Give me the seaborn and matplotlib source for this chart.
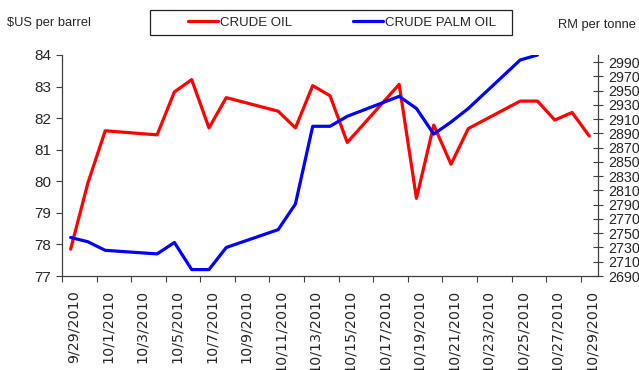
import pandas as pd
import matplotlib
matplotlib.use("Agg")
import matplotlib.pyplot as plt
import seaborn as sns
from matplotlib.patches import Rectangle
from matplotlib.lines import Line2D

# Daily closing prices (business days)
dates = ["2010-09-29", "2010-09-30", "2010-10-01", "2010-10-04", "2010-10-05",
         "2010-10-06", "2010-10-07", "2010-10-08", "2010-10-11", "2010-10-12",
         "2010-10-13", "2010-10-14", "2010-10-15", "2010-10-18", "2010-10-19",
         "2010-10-20", "2010-10-21", "2010-10-22", "2010-10-25", "2010-10-26",
         "2010-10-27", "2010-10-28", "2010-10-29"]
crude_oil = [77.85, 79.95, 81.60, 81.47, 82.83, 83.22, 81.69, 82.65, 82.22, 81.69,
             83.03, 82.71, 81.23, 83.07, 79.46, 81.78, 80.54, 81.67, 82.54, 82.54,
             81.94, 82.18, 81.43]
palm_dates = dates[:20]
crude_palm_oil = [2744, 2738, 2726, 2721, 2737, 2699, 2699, 2730, 2755, 2791,
                  2900, 2900, 2914, 2942, 2925, 2889, 2906, 2925, 2993, 3000]

tick_labels = ["9/29/2010", "10/1/2010", "10/3/2010", "10/5/2010", "10/7/2010",
               "10/9/2010", "10/11/2010", "10/13/2010", "10/15/2010", "10/17/2010",
               "10/19/2010", "10/21/2010", "10/23/2010", "10/25/2010", "10/27/2010",
               "10/29/2010"]
left_ticks = [77, 78, 79, 80, 81, 82, 83, 84]
right_ticks = list(range(2690, 2991, 20))

start = pd.Timestamp(dates[0])
oil = pd.DataFrame({"day": (pd.to_datetime(dates) - start).days, "price": crude_oil})
palm = pd.DataFrame({"day": (pd.to_datetime(palm_dates) - start).days, "price": crude_palm_oil})
label_days = [(pd.to_datetime(s, format="%m/%d/%Y") - start).days for s in tick_labels]

sns.set_style("ticks")
sans = ["Liberation Sans", "DejaVu Sans"]
plt.rcParams["font.family"] = sans
axis_col = "#404040"

fig = plt.figure(figsize=(6.39, 3.70), dpi=100)
ax = fig.add_axes([62 / 639, 1 - 276 / 370, (598 - 62) / 639, (276 - 55) / 370])
ax2 = ax.twinx()

sns.lineplot(data=oil, x="day", y="price", ax=ax, color="#ff0000", lw=2.3,
             legend=False)
sns.lineplot(data=palm, x="day", y="price", ax=ax2, color="#0000ff", lw=2.3,
             legend=False)

ax.set_xlim(-0.5, 30.5)
ax.set_ylim(77, 84)
ax2.set_ylim(2690, 3000)

ax.set_xlabel("")
ax.set_ylabel("")
ax2.set_ylabel("")

# date labels sit under each second day slot; tick marks fall between slots
ax.set_xticks([d + 0.15 for d in label_days])
ax.set_xticklabels(tick_labels, rotation=90, family="DejaVu Sans", fontsize=10.3)
ax.set_xticks([d - 0.5 for d in range(0, 31, 2)], minor=True)
ax.tick_params(axis="x", which="major", length=0, pad=10)
ax.tick_params(axis="x", which="minor", length=4, width=0.8, color=axis_col, direction="out")

ax.set_yticks(left_ticks)
ax.tick_params(axis="y", length=4, width=0.8, color=axis_col, direction="out",
               labelsize=11, pad=4)
ax2.set_yticks(right_ticks)
ax2.tick_params(axis="y", length=7, width=0.8, color=axis_col, direction="inout",
                labelsize=10.3, pad=4)

for a in (ax, ax2):
    a.spines["top"].set_visible(False)
    for side in ("left", "bottom", "right"):
        a.spines[side].set_color(axis_col)
        a.spines[side].set_linewidth(0.9)
ax.spines["right"].set_visible(False)
ax2.spines["left"].set_visible(False)
ax2.spines["bottom"].set_visible(False)

# Legend with its own frame
handles = [Line2D([], [], color="#ff0000", lw=2.3), Line2D([], [], color="#0000ff", lw=2.3)]
fig.legend(handles, ["CRUDE OIL", "CRUDE PALM OIL"], ncol=2, loc="center",
           bbox_to_anchor=(342 / 639, 1 - 22.5 / 370), frameon=False,
           prop={"family": sans, "size": 9.5}, handlelength=2.27,
           handletextpad=0.15, columnspacing=4.6)
fig.add_artist(Rectangle((150 / 639, 1 - 35 / 370), 362 / 639, 25 / 370,
                         transform=fig.transFigure, fill=False, ec="#222222", lw=0.9))

fig.text(7 / 639, 1 - 23 / 370, "$US per barrel", ha="left", va="center", fontsize=9.3)
fig.text(558 / 639, 1 - 25 / 370, "RM per tonne", ha="left", va="center", fontsize=9.3)

fig.savefig("out.png", dpi=100)
